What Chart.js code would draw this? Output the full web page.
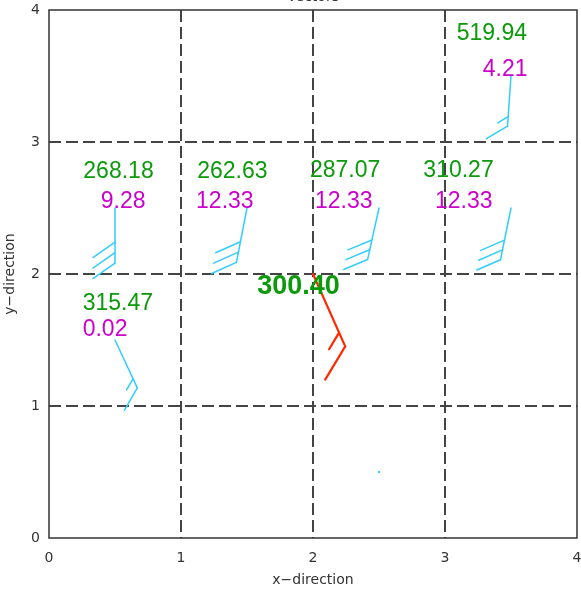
<!DOCTYPE html>
<html>
<head>
<meta charset="utf-8">
<script src="https://cdn.jsdelivr.net/npm/chart.js@4"></script>
<style>
  html, body { margin: 0; padding: 0; background: #fff; }
  #wrap { width: 581px; height: 591px; }
</style>
</head>
<body>
<div id="wrap"><canvas id="chart" width="581" height="591"></canvas></div>
<script>
// stations (data units)
const stationX = [0.5, 1.5, 2.5, 3.5, 3.5, 0.5, 2.0, 2.5]
const stationY = [2.5, 2.5, 2.5, 2.5, 3.5, 1.5, 2.0, 0.5]
// staff bearing (deg, clockwise from up) and staff length (data units)
const staffBearing = [180, 191, 192.5, 191.5, 184, 155, 156, 0]
const staffLength = [0.417, 0.42, 0.40, 0.40, 0.38, 0.40, 0.60, 0]
const fullFeathers = [3, 3, 3, 3, 1, 1, 1, 0]
const halfFeathers = [0, 0, 0, 0, 1, 1, 1, 0]
const highlight = [false, false, false, false, false, false, true, false]

// label values and anchors (data units, left edge / vertical middle)
const dirLabels = ['268.18', '262.63', '287.07', '310.27', '519.94', '315.47', '300.40']
const dirLabelX = [0.26, 1.123, 1.977, 2.836, 3.089, 0.255, 1.578]
const dirLabelY = [2.775, 2.775, 2.78, 2.78, 3.82, 1.778, 1.904]
const speedLabels = ['9.28', '12.33', '12.33', '12.33', '4.21', '0.02']
const speedLabelX = [0.392, 1.114, 2.015, 2.924, 3.286, 0.255]
const speedLabelY = [2.548, 2.548, 2.548, 2.548, 3.545, 1.576]

const xTicks = [0, 1, 2, 3, 4]
const yTicks = [0, 1, 2, 3, 4]

const CYAN = '#33ccff'
const RED = '#ff2a00'
const GREEN = '#0a9a0a'
const MAGENTA = '#cc00cc'
const AXIS = '#333333'

const FEATHER_ANGLE = 55 * Math.PI / 180

const barbPlugin = {
  id: 'barbs',
  beforeDatasetsDraw(chart) {
    const {ctx, chartArea: a} = chart
    ctx.save()
    ctx.strokeStyle = AXIS
    ctx.lineWidth = 1.5
    ctx.strokeRect(a.left, a.top, a.right - a.left, a.bottom - a.top)
    // title sits mostly above the page edge
    ctx.fillStyle = AXIS
    ctx.font = '14px "DejaVu Sans"'
    ctx.textAlign = 'center'
    ctx.textBaseline = 'alphabetic'
    ctx.fillText('Vectors', (a.left + a.right) / 2, 1)
    ctx.restore()
  },
  afterDatasetsDraw(chart) {
    const {ctx, scales: {x, y}} = chart
    ctx.save()
    ctx.lineCap = 'round'
    ctx.lineJoin = 'round'

    stationX.forEach((sx, i) => {
      const color = highlight[i] ? RED : CYAN
      const px = x.getPixelForValue(sx)
      const py = y.getPixelForValue(stationY[i])
      const b = staffBearing[i] * Math.PI / 180
      const tx = x.getPixelForValue(sx + staffLength[i] * Math.sin(b))
      const ty = y.getPixelForValue(stationY[i] + staffLength[i] * Math.cos(b))
      const len = Math.hypot(tx - px, ty - py)

      ctx.strokeStyle = color
      ctx.fillStyle = color
      ctx.lineWidth = highlight[i] ? 2.2 : 1.5

      if (len < 1) {
        ctx.fillRect(px - 1, py - 1, 2, 2)
        return
      }

      ctx.beginPath()
      ctx.moveTo(px, py)
      ctx.lineTo(tx, ty)
      ctx.stroke()

      const ux = (tx - px) / len
      const uy = (ty - py) / len
      const ang = Math.atan2(uy, ux) + FEATHER_ANGLE
      const fx = Math.cos(ang)
      const fy = Math.sin(ang)
      const full = len * 0.49
      const step = len * 0.19

      let k = 0
      const feathers = []
      for (let n = 0; n < fullFeathers[i]; n++) feathers.push(full)
      for (let n = 0; n < halfFeathers[i]; n++) feathers.push(full * 0.5)
      feathers.forEach(fl => {
        const bx = tx - ux * step * k
        const by = ty - uy * step * k
        ctx.beginPath()
        ctx.moveTo(bx, by)
        ctx.lineTo(bx + fx * fl, by + fy * fl)
        ctx.stroke()
        k++
      })
    })

    ctx.textAlign = 'left'
    ctx.textBaseline = 'middle'
    dirLabels.forEach((t, i) => {
      const bold = highlight[i]
      ctx.font = bold ? 'bold 27px "Liberation Sans"' : '23px "Liberation Sans"'
      ctx.fillStyle = GREEN
      ctx.fillText(t, x.getPixelForValue(dirLabelX[i]), y.getPixelForValue(dirLabelY[i]))
    })
    ctx.font = '23px "Liberation Sans"'
    ctx.fillStyle = MAGENTA
    speedLabels.forEach((t, i) => {
      ctx.fillText(t, x.getPixelForValue(speedLabelX[i]), y.getPixelForValue(speedLabelY[i]))
    })
    ctx.restore()
  }
}

const gridColor = ctx => {
  const v = ctx.tick && ctx.tick.value
  return (v === 0 || v === 4) ? 'rgba(0,0,0,0)' : '#444444'
}

const tickFont = {family: 'DejaVu Sans', size: 14}

new Chart(document.getElementById('chart'), {
  type: 'scatter',
  data: {
    datasets: [{
      data: stationX.map((v, i) => ({x: v, y: stationY[i]})),
      pointRadius: 0,
      showLine: false
    }]
  },
  options: {
    responsive: false,
    animation: false,
    events: [],
    layout: {padding: {top: 10, right: 4, left: 0, bottom: 0}},
    plugins: {legend: {display: false}, tooltip: {enabled: false}, title: {display: false}},
    scales: {
      x: {
        type: 'linear',
        min: 0,
        max: 4,
        afterBuildTicks: s => { s.ticks = xTicks.map(v => ({value: v})) },
        afterFit: s => {
          s.height = 53
          s.paddingLeft = 0
          s.paddingRight = 0
        },
        border: {display: false, dash: [12, 5]},
        grid: {color: gridColor, lineWidth: 2, drawTicks: false},
        ticks: {color: AXIS, font: tickFont, padding: 12},
        title: {display: true, text: 'x\u2212direction', color: AXIS, font: tickFont, padding: {top: 0, bottom: 2}}
      },
      y: {
        type: 'linear',
        min: 0,
        max: 4,
        afterBuildTicks: s => { s.ticks = yTicks.map(v => ({value: v})) },
        afterFit: s => {
          s.width = 49
          s.paddingTop = 0
          s.paddingBottom = 0
        },
        border: {display: false, dash: [12, 5]},
        grid: {color: gridColor, lineWidth: 2, drawTicks: false},
        ticks: {color: AXIS, font: tickFont, padding: 9},
        title: {display: true, text: 'y\u2212direction', color: AXIS, font: tickFont, padding: {top: 2, bottom: 0}}
      }
    }
  },
  plugins: [barbPlugin]
})
</script>
</body>
</html>
